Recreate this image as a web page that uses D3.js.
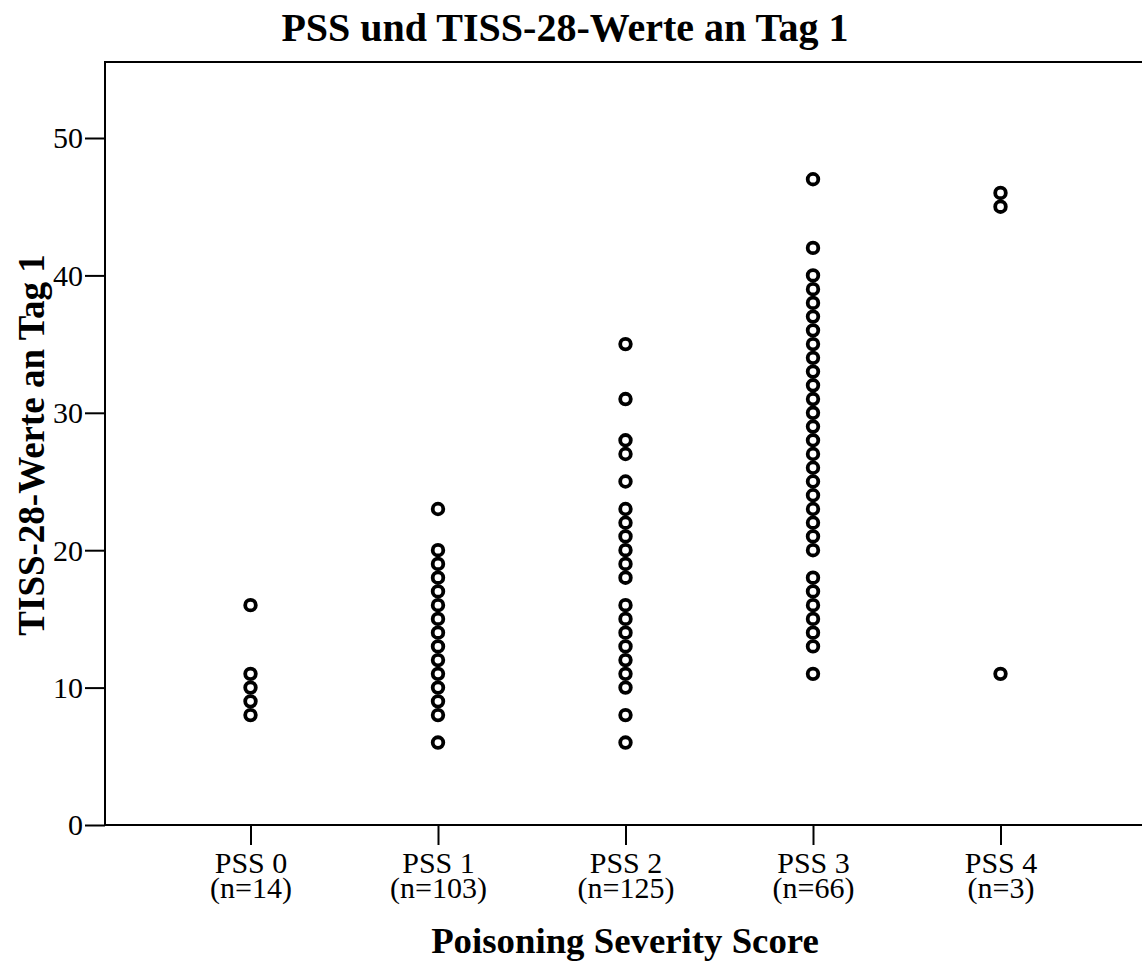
<!DOCTYPE html>
<html>
<head>
<meta charset="utf-8">
<script src="https://cdn.jsdelivr.net/npm/d3@7"></script>
<style>
  html, body { margin: 0; padding: 0; background: #fff; }
  svg { display: block; }
  text { font-family: "Liberation Serif", "Times New Roman", serif; fill: #000; }
</style>
</head>
<body>
<svg id="chart" width="1142" height="966"></svg>
<script>
const categories = ["PSS 0", "PSS 1", "PSS 2", "PSS 3", "PSS 4"];
const counts = ["(n=14)", "(n=103)", "(n=125)", "(n=66)", "(n=3)"];
const pss0 = [16, 11, 10, 9, 8];
const pss1 = [23, 20, 19, 18, 17, 16, 15, 14, 13, 12, 11, 10, 9, 8, 6];
const pss2 = [35, 31, 28, 27, 25, 23, 22, 21, 20, 19, 18, 16, 15, 14, 13, 12, 11, 10, 8, 6];
const pss3 = [47, 42, 40, 39, 38, 37, 36, 35, 34, 33, 32, 31, 30, 29, 28, 27, 26, 25, 24, 23, 22, 21, 20, 18, 17, 16, 15, 14, 13, 11];
const pss4 = [46, 45, 11];
const yTicks = [0, 10, 20, 30, 40, 50];

const chartTitle = "PSS und TISS-28-Werte an Tag 1";
const xTitle = "Poisoning Severity Score";
const yTitle = "TISS-28-Werte an Tag 1";

const seriesValues = [pss0, pss1, pss2, pss3, pss4];
const points = [];
seriesValues.forEach((vals, i) => vals.forEach(v => points.push({cat: categories[i], v})));

const svg = d3.select("#chart");
const mLeft = 105, mRight = 1142, mTop = 62, mBottom = 825;

const x = d3.scalePoint().domain(categories).range([250.5, 1000.5]);
const y = d3.scaleLinear().domain([0, 50]).range([mBottom, 138]);

// frame top
svg.append("line").attr("x1", mLeft).attr("x2", mRight).attr("y1", mTop).attr("y2", mTop)
  .attr("stroke", "#000").attr("stroke-width", 2);

// y axis
const yAxis = svg.append("g").attr("transform", `translate(${mLeft},0)`)
  .call(d3.axisLeft(y).tickValues(yTicks).tickSize(20).tickPadding(2));
yAxis.select(".domain").remove();
svg.append("line").attr("x1", mLeft).attr("x2", mLeft).attr("y1", mTop - 1).attr("y2", mBottom + 1)
  .attr("stroke", "#000").attr("stroke-width", 2);
yAxis.selectAll(".tick line").attr("stroke", "#000").attr("stroke-width", 2);
yAxis.selectAll(".tick text").attr("font-size", 30).attr("font-family", "Liberation Serif").attr("dy", "0.33em");

// x axis
const xAxis = svg.append("g").attr("transform", `translate(0,${mBottom})`)
  .call(d3.axisBottom(x).tickSize(20).tickFormat(""));
xAxis.select(".domain").remove();
svg.append("line").attr("x1", mLeft - 1).attr("x2", mRight).attr("y1", mBottom).attr("y2", mBottom)
  .attr("stroke", "#000").attr("stroke-width", 2);
xAxis.selectAll(".tick line").attr("stroke", "#000").attr("stroke-width", 2);
xAxis.selectAll(".tick").each(function(d, i) {
  const t = d3.select(this).append("text").attr("text-anchor", "middle")
    .attr("font-size", 30).attr("font-family", "Liberation Serif").attr("fill", "#000");
  t.append("tspan").attr("x", 0).attr("y", 48).text(d);
  t.append("tspan").attr("x", 0).attr("y", 73).text(counts[i]);
});

// points
svg.append("g").selectAll("circle").data(points).join("circle")
  .attr("cx", d => x(d.cat)).attr("cy", d => y(d.v)).attr("r", 5.3)
  .attr("fill", "none").attr("stroke", "#000").attr("stroke-width", 3.8);

// titles
svg.append("text").attr("x", 565).attr("y", 41).attr("text-anchor", "middle")
  .attr("font-size", 40).attr("font-weight", "bold").text(chartTitle);
svg.append("text").attr("x", 625).attr("y", 953).attr("text-anchor", "middle")
  .attr("font-size", 36.8).attr("font-weight", "bold").text(xTitle);
svg.append("text").attr("transform", "translate(44,445) rotate(-90)").attr("text-anchor", "middle")
  .attr("font-size", 37).attr("font-weight", "bold").text(yTitle);
</script>
</body>
</html>
